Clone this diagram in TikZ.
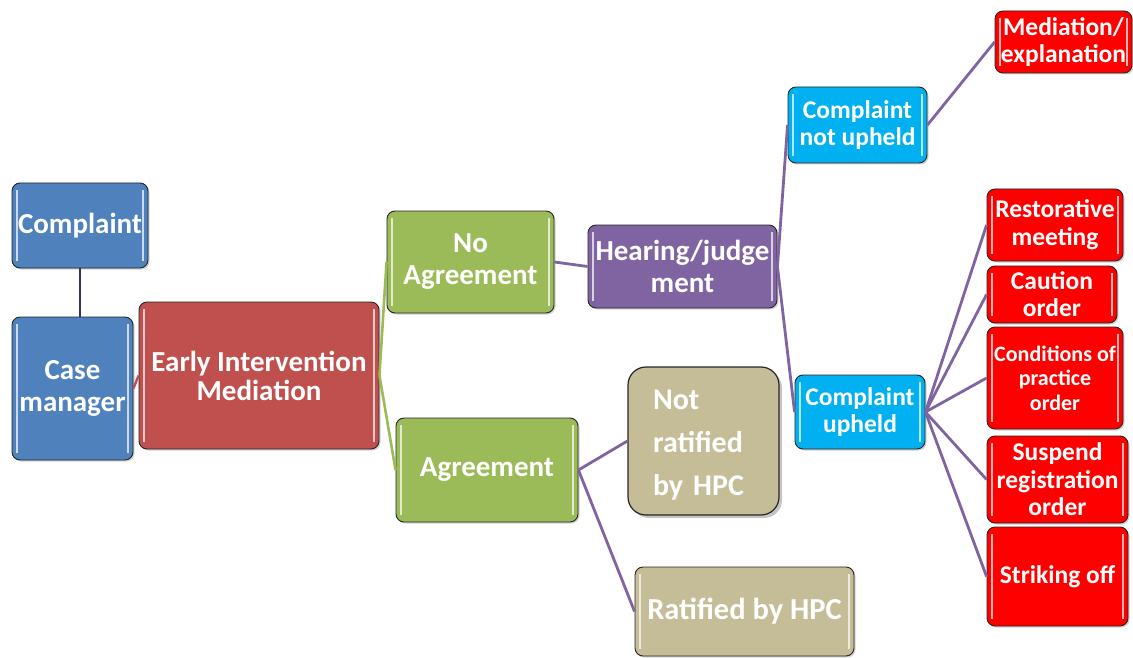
\documentclass[tikz,border=0pt]{standalone}
\usepackage{fontspec}
\setmainfont{Carlito}
\usetikzlibrary{shadows}
\newcommand\fsz[2]{\fontsize{#1}{#2}\selectfont}
\definecolor{cblue}{HTML}{4F81BD}
\definecolor{cred}{HTML}{C0504D}
\definecolor{cgreen}{HTML}{9BBB59}
\definecolor{cpurple}{HTML}{8064A2}
\definecolor{ccyan}{HTML}{00B0F0}
\definecolor{cbright}{HTML}{FF0000}
\definecolor{ctan}{HTML}{C4BD97}
\definecolor{cdark}{HTML}{3F3151}
\tikzset{
  box/.style={draw=black!85, line width=0.9pt, rounded corners=8pt, text=white,
    font=\bfseries, align=center, inner sep=0pt,
    drop shadow={shadow xshift=1.5pt, shadow yshift=-1.5pt, fill=black!35},
    path picture={
      \draw[white, opacity=.7, line width=1.4pt]
        ([xshift=5pt,yshift=-7pt]path picture bounding box.north west) --
        ([xshift=5pt,yshift=7pt]path picture bounding box.south west);
      \draw[white, opacity=.7, line width=1.4pt]
        ([xshift=-5pt,yshift=-7pt]path picture bounding box.north east) --
        ([xshift=-5pt,yshift=7pt]path picture bounding box.south east);
    }},
  plainbox/.style={draw=black!85, line width=1.2pt, rounded corners=18pt,
    drop shadow={shadow xshift=3pt, shadow yshift=-3pt, fill=black!45}},
  sz/.style n args={2}{minimum width=#1pt, minimum height=#2pt},
  link/.style={draw=cpurple, line width=2.8pt},
  glink/.style={draw=cgreen, line width=2.6pt},
}
\begin{document}
\begin{tikzpicture}[x=1pt,y=-1pt]
\useasboundingbox (0,0) rectangle (1133,658);
% left
\node[box, fill=cblue, sz={136}{85}, font=\bfseries\fsz{29}{32}] (complaint) at (80,225.5) {Complaint};
\node[box, fill=cblue, sz={121}{143}, font=\bfseries\fsz{29}{32}] (case) at (72.5,388.5) {Case\\manager};
\node[box, fill=cred, sz={240}{147}, font=\bfseries\fsz{29}{29}] (eim) at (259,375.5) {Early Intervention\\Mediation};
% middle
\node[box, fill=cgreen, sz={167}{102}, font=\bfseries\fsz{29}{32}] (noag) at (470.5,262) {No\\Agreement};
\node[box, fill=cpurple, sz={189}{83}, font=\bfseries\fsz{29}{32}] (hear) at (682.5,266.5) {Hearing/judge\\ment};
\node[box, fill=cgreen, sz={182}{104}, font=\bfseries\fsz{29}{32}] (agree) at (487,470) {Agreement};
\node[plainbox, fill=ctan, sz={151}{148},
  label={[text=white, font=\bfseries\fsz{30}{43}, align=left, text width=101pt, inner sep=0pt, yshift=-4pt]center:{Not\\ratified\\\mbox{by HPC}}}] (notrat) at (703.5,441) {};
\node[box, fill=ctan, sz={219}{89}, font=\bfseries\fsz{30.5}{32}] (rat) at (744.5,611.5) {Ratified by HPC};
% right
\node[box, fill=ccyan, sz={139}{76}, font=\bfseries\fsz{25.5}{27}] (cnu) at (857.5,125) {Complaint\\not upheld};
\node[box, fill=cbright, sz={137}{62}, font=\bfseries\fsz{25.5}{27}] (med) at (1063.5,42) {Mediation/\\explanation};
\node[box, fill=ccyan, sz={130}{74}, font=\bfseries\fsz{25.5}{27}] (cu) at (860,412) {Complaint\\upheld};
\node[box, fill=cbright, sz={136}{72}, font=\bfseries\fsz{25.5}{28}] (rest) at (1055,225) {Restorative\\meeting};
\node[box, fill=cbright, sz={130}{57}, font=\bfseries\fsz{25.5}{27}] (caut) at (1052,294.5) {Caution\\order};
\node[box, fill=cbright, sz={136}{102}, font=\bfseries\fsz{22}{24.5}] (cond) at (1055,378) {Conditions of\\practice\\order};
\node[box, fill=cbright, sz={141}{87}, font=\bfseries\fsz{25.5}{27.5}] (susp) at (1057.5,479.5) {Suspend\\registration\\order};
\node[box, fill=cbright, sz={141}{99}, font=\bfseries\fsz{25.5}{28}] (strike) at (1057.5,576.5) {Striking off};
% connectors
\draw[draw=cdark, line width=1.8pt] (complaint.south) -- (complaint.south |- case.north);
\draw[draw=cred, line width=2.4pt] (case.east) -- (eim.west);
\draw[glink] (eim.east) -- (noag.west);
\draw[glink] (eim.east) -- (agree.west);
\draw[link] (noag.east) -- (hear.west);
\draw[link] (hear.east) -- (cnu.west);
\draw[link] (hear.east) -- (cu.west);
\draw[link] (cnu.east) -- (med.west);
\draw[link] (cu.east) -- (rest.west);
\draw[link] (cu.east) -- (caut.west);
\draw[link] (cu.east) -- (cond.west);
\draw[link] (cu.east) -- (susp.west);
\draw[link] (cu.east) -- (strike.west);
\draw[link] (agree.east) -- (notrat.west);
\draw[link] (agree.east) -- (rat.west);
\end{tikzpicture}
\end{document}
